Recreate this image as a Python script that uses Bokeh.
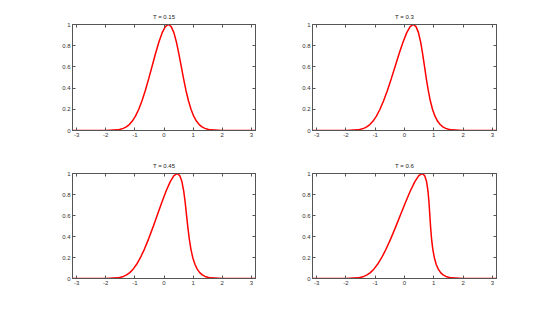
from bokeh.plotting import figure
from bokeh.layouts import gridplot
from bokeh.models import Range1d, FixedTicker, LinearAxis
from bokeh.embed import file_html
from bokeh.resources import INLINE

# shared amplitude values along the profile
u_vals = [0.0, 0.0003, 0.0060, 0.0111, 0.0198, 0.0340, 0.0561, 0.0889, 0.1353, 0.1979,
          0.2780, 0.3753, 0.4868, 0.6065, 0.7261, 0.8353, 0.9231, 0.9802, 1.0,
          0.9802, 0.9231, 0.8353, 0.7261, 0.6065, 0.4868, 0.3753, 0.2780, 0.1979,
          0.1353, 0.0889, 0.0561, 0.0340, 0.0198, 0.0111, 0.0060, 0.0003, 0.0]

x_t015 = [-3.1416, -2.0, -1.599, -1.498, -1.397, -1.295, -1.192, -1.087, -0.980, -0.870,
          -0.758, -0.644, -0.527, -0.409, -0.291, -0.175, -0.062, 0.047, 0.150,
          0.247, 0.339, 0.425, 0.509, 0.591, 0.673, 0.756, 0.842, 0.930,
          1.020, 1.113, 1.208, 1.305, 1.403, 1.502, 1.601, 2.0, 3.1416]

x_t030 = [-3.1416, -2.0, -1.598, -1.497, -1.394, -1.290, -1.183, -1.073, -0.959, -0.841,
          -0.717, -0.587, -0.454, -0.318, -0.182, -0.049, 0.077, 0.194, 0.300,
          0.394, 0.477, 0.551, 0.618, 0.682, 0.746, 0.813, 0.883, 0.959,
          1.041, 1.127, 1.217, 1.310, 1.406, 1.503, 1.602, 2.0, 3.1416]

x_t045 = [-3.1416, -2.0, -1.597, -1.495, -1.391, -1.285, -1.175, -1.060, -0.939, -0.811,
          -0.675, -0.531, -0.381, -0.227, -0.073, 0.076, 0.215, 0.341, 0.450,
          0.541, 0.615, 0.676, 0.727, 0.773, 0.819, 0.869, 0.925, 0.989,
          1.061, 1.140, 1.225, 1.315, 1.409, 1.505, 1.603, 2.0, 3.1416]

x_t060 = [-3.1416, -2.0, -1.596, -1.493, -1.388, -1.280, -1.166, -1.047, -0.919, -0.781,
          -0.633, -0.475, -0.308, -0.136, 0.036, 0.201, 0.354, 0.488, 0.600,
          0.688, 0.754, 0.801, 0.836, 0.864, 0.892, 0.925, 0.967, 1.019,
          1.081, 1.153, 1.234, 1.320, 1.412, 1.507, 1.604, 2.0, 3.1416]

titles = ["T = 0.15", "T = 0.3", "T = 0.45", "T = 0.6"]
x_ticks = [-3, -2, -1, 0, 1, 2, 3]
y_ticks = [0, 0.2, 0.4, 0.6, 0.8, 1]
y_tick_labels = ["0", "0.2", "0.4", "0.6", "0.8", "1"]
x_tick_labels = ["-3", "-2", "-1", "0", "1", "2", "3"]

AX = "#555555"
FONT = "Liberation Sans"


def make(title, xs, col, row):
    p = figure(
        frame_width=183 if col == 0 else 184,
        frame_height=106 if row == 0 else 105,
        min_border_left=72 if col == 0 else 32,
        min_border_right=25 if col == 0 else 36,
        min_border_top=24 if row == 0 else 23,
        min_border_bottom=20,
        x_range=Range1d(-3.1416, 3.1416),
        y_range=Range1d(0, 1),
        output_backend="svg",
        toolbar_location=None,
        title=title,
    )
    p.title.align = "center"
    p.title.text_font = FONT
    p.title.text_font_size = "6px"
    p.title.text_font_style = "normal"
    p.title.text_color = "#222222"
    p.title.standoff = 9
    p.xgrid.visible = False
    p.ygrid.visible = False
    p.outline_line_color = AX
    p.outline_line_width = 1
    p.background_fill_color = "white"
    p.border_fill_color = "white"

    p.xaxis.ticker = FixedTicker(ticks=x_ticks)
    p.yaxis.ticker = FixedTicker(ticks=y_ticks)
    p.xaxis.major_label_overrides = {t: l for t, l in zip(x_ticks, x_tick_labels)}
    p.yaxis.major_label_overrides = {t: l for t, l in zip(y_ticks, y_tick_labels)}
    for ax in (p.xaxis[0], p.yaxis[0]):
        ax.axis_line_color = AX
        ax.major_tick_line_color = AX
        ax.major_tick_in = 3
        ax.major_tick_out = 0
        ax.minor_tick_line_color = None
        ax.major_label_text_font = FONT
        ax.major_label_text_font_size = "6px"
        ax.major_label_text_color = "#333333"
        ax.major_label_standoff = 2

    top = LinearAxis(ticker=FixedTicker(ticks=x_ticks), major_label_text_color=None,
                     major_tick_in=3, major_tick_out=0, minor_tick_line_color=None,
                     axis_line_color=AX, major_tick_line_color=AX, major_label_standoff=0)
    right = LinearAxis(ticker=FixedTicker(ticks=y_ticks), major_label_text_color=None,
                       major_tick_in=3, major_tick_out=0, minor_tick_line_color=None,
                       axis_line_color=AX, major_tick_line_color=AX, major_label_standoff=0)
    p.add_layout(top, "above")
    p.add_layout(right, "right")

    p.line(xs, u_vals, line_color="#ff0000", line_width=1.5)
    return p


p1 = make(titles[0], x_t015, 0, 0)
p2 = make(titles[1], x_t030, 1, 0)
p3 = make(titles[2], x_t045, 0, 1)
p4 = make(titles[3], x_t060, 1, 1)

grid = gridplot([[p1, p2], [p3, p4]], toolbar_location=None)

open("out.html", "w").write(file_html(grid, INLINE))
